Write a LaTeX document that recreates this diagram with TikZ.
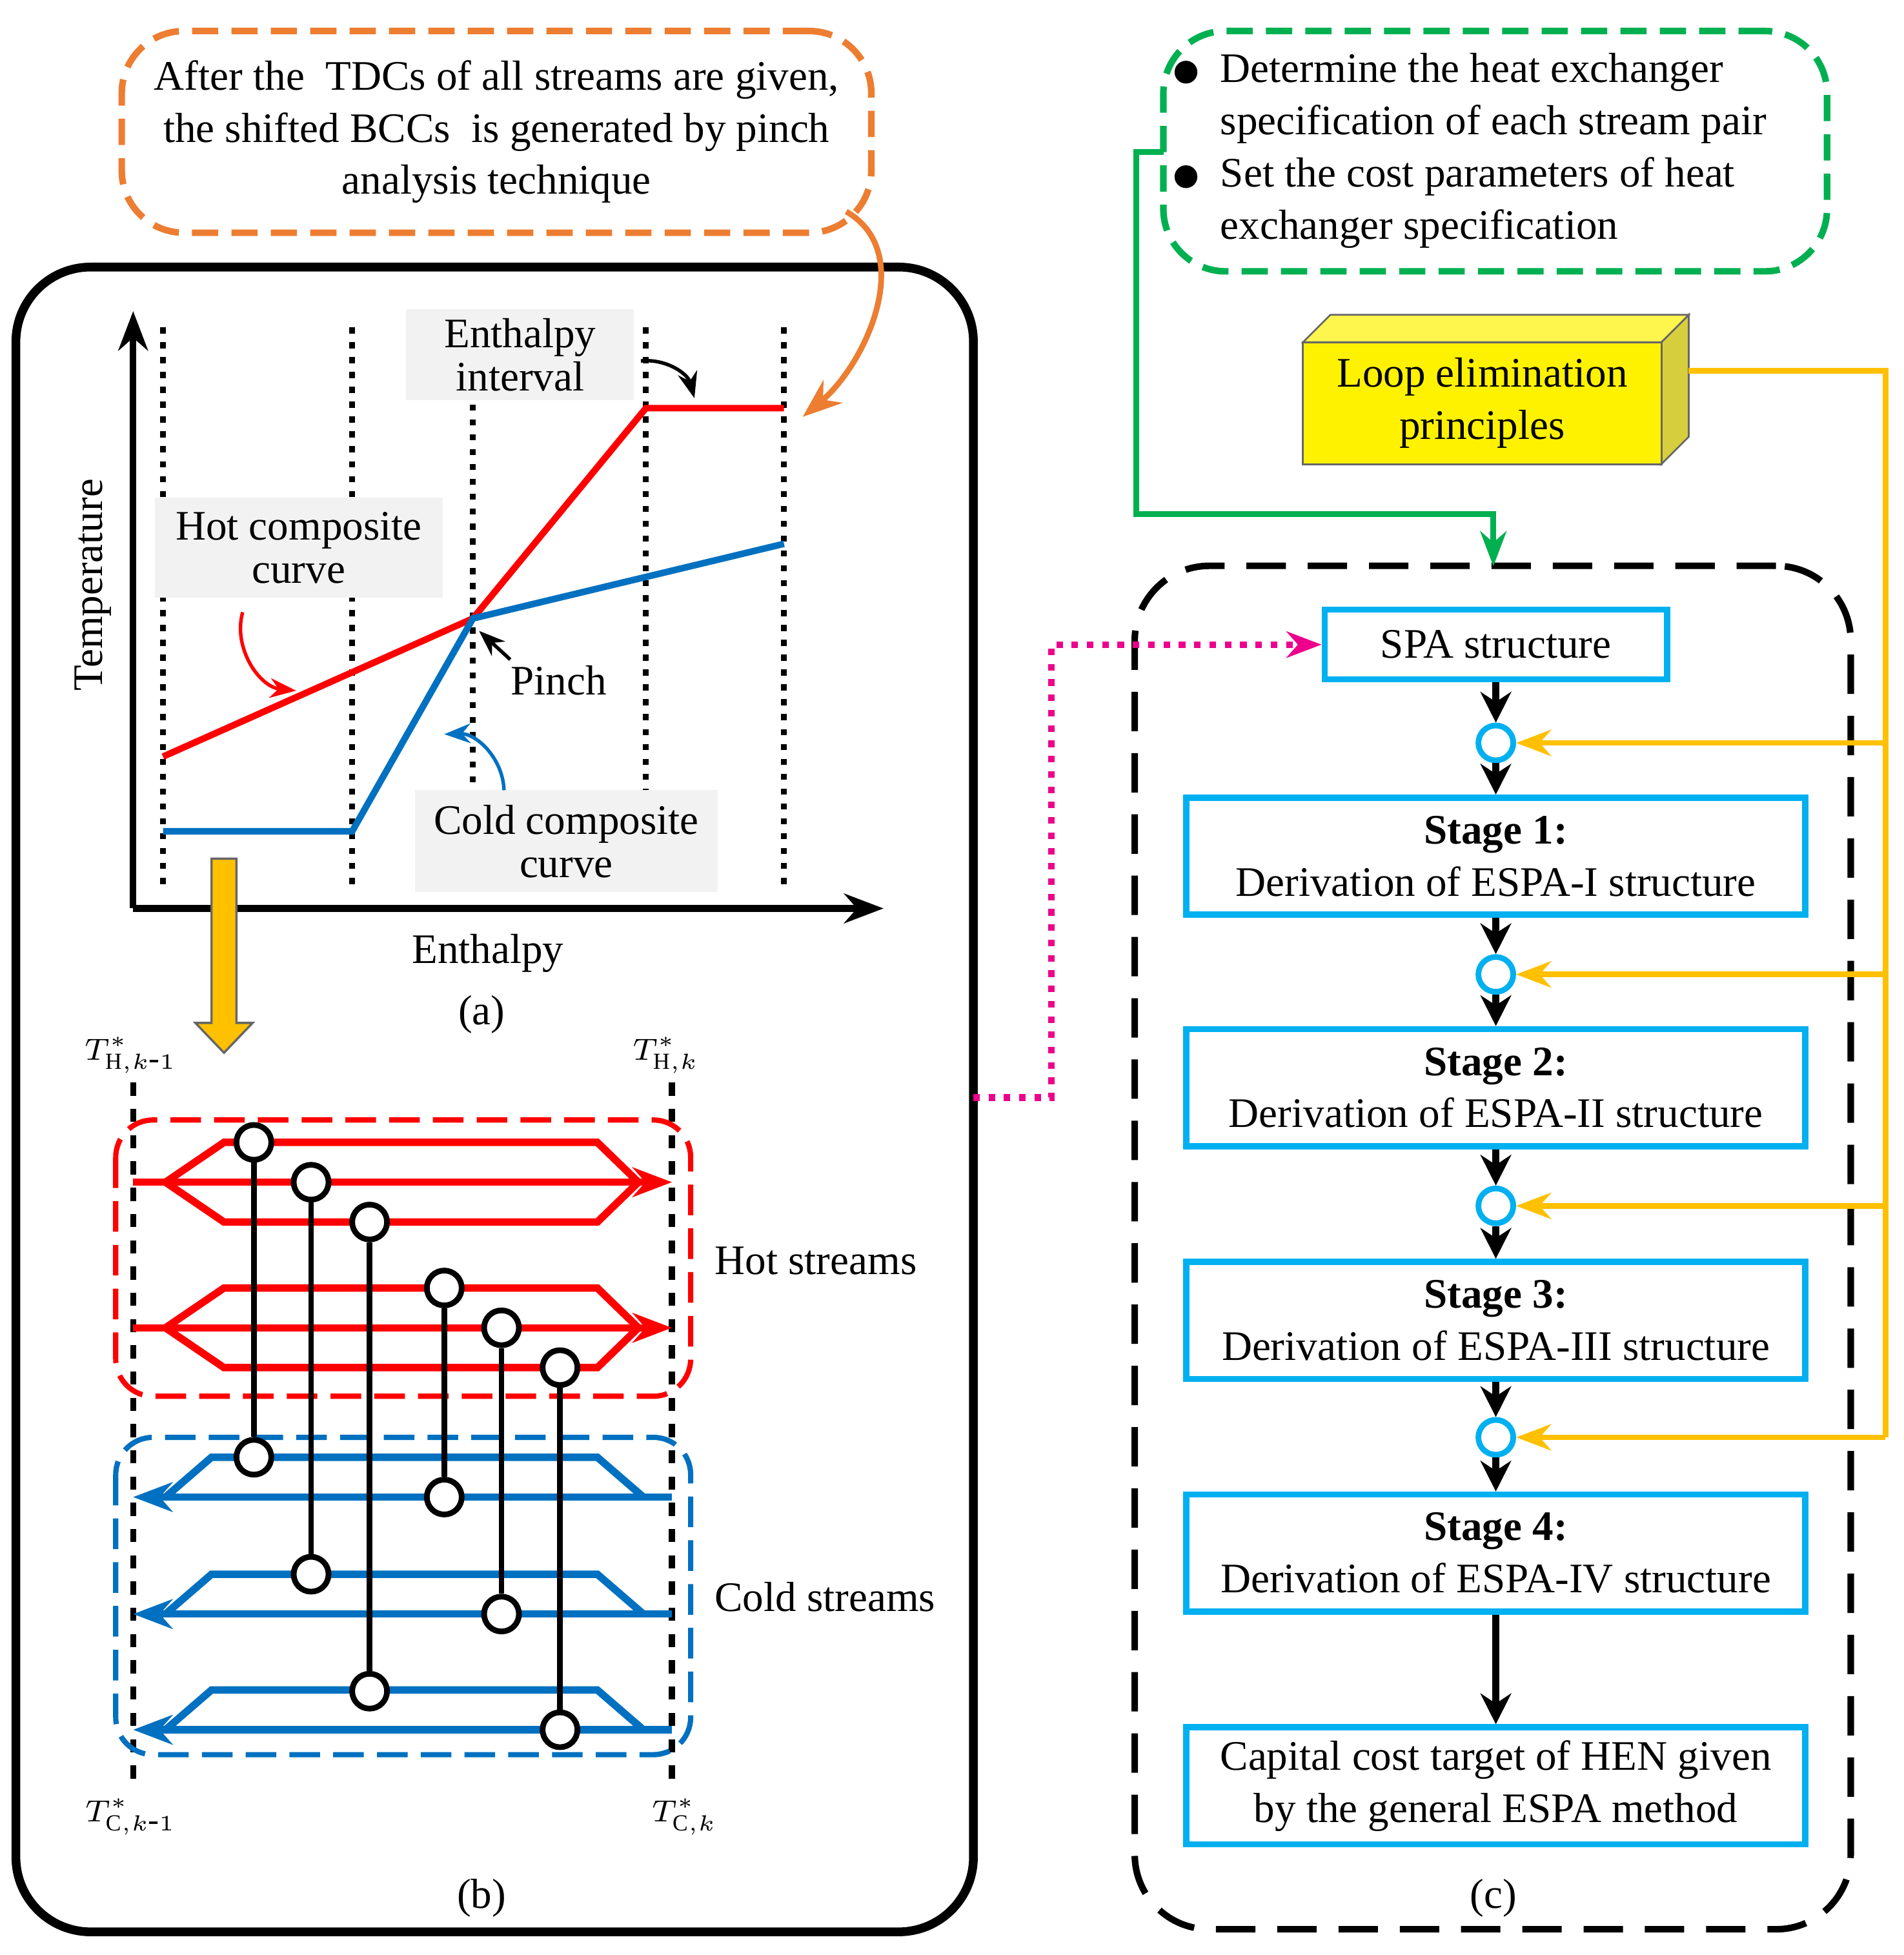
\documentclass[tikz,border=0pt]{standalone}
\usepackage{fontspec}
\setmainfont{Liberation Serif}
\usetikzlibrary{arrows.meta,shapes.geometric}
\definecolor{myorange}{RGB}{237,125,49}
\definecolor{mygreen}{RGB}{0,176,80}
\definecolor{mycyan}{RGB}{0,176,240}
\definecolor{myblue}{RGB}{0,112,192}
\definecolor{mygold}{RGB}{255,192,0}
\definecolor{mygray}{RGB}{242,242,242}
\begin{document}
\begin{tikzpicture}[x=0.01cm,y=-0.01cm,
  every node/.style={font=\fontsize{9.6}{11.9}\selectfont},
  lbl/.style={fill=mygray,align=center,inner sep=2pt},
  tl/.style={font=\fontsize{7.5}{9}\selectfont},
  stage/.style={draw=mycyan,line width=1.4pt,align=center,minimum width=4.97cm,minimum height=0.94cm,inner sep=1pt},
  jn/.style={circle,draw=mycyan,line width=1.3pt,fill=white,minimum size=0.28cm,inner sep=0pt},
  hx/.style={circle,draw=black,line width=1.3pt,fill=white,minimum size=0.28cm,inner sep=0pt},
  vdot/.style={line width=1.4pt,dotted},
  flow/.style={line width=1.6pt,-{Stealth[length=7pt,width=7pt]}},
  gold/.style={mygold,line width=1.3pt}]
\useasboundingbox (0,0) rectangle (1530,1571);
% orange note
\node[draw=myorange,dash pattern=on 6pt off 3pt,line width=1.5pt,rounded corners=0.5cm,minimum width=6.02cm,minimum height=1.62cm,align=center] (note) at (399,106) {After the\ \ TDCs of all streams are given,\\the shifted BCCs\ \ is generated by pinch\\analysis technique};
% big box
\node[draw,line width=2pt,rounded corners=0.6cm,minimum width=7.69cm,minimum height=13.37cm] (ab) at (397.5,883.5) {};
% axes
\coordinate (O) at (107,730);
\coordinate (Y) at (107,250);
\coordinate (X) at (710,730);
\draw[line width=1.5pt,-{Stealth[length=9pt]}] (O) -- (Y);
\draw[line width=1.5pt,-{Stealth[length=9pt]}] (O) -- (X);
\foreach \x/\t in {131/263,283/263,380/325,519/263,630/263}
  \draw[vdot] (\x,\t) -- (\x,715);
\draw[red,line width=1.5pt] (131,608) -- (380,497) -- (519,328) -- (630,328);
\draw[myblue,line width=1.5pt] (131,668) -- (283,668) -- (380,497) -- (630,437);
\node[rotate=90] (temp) at (75,470) {Temperature};
\node (enth) at (392,766) {Enthalpy};
\node (a) at (387,815) {(a)};
\node[lbl,minimum width=1.83cm,minimum height=0.7cm] (ei) at (418,285) {Enthalpy\\[-2pt]interval};
\node[lbl,minimum width=2.31cm,minimum height=0.8cm] (hc) at (240,440) {Hot composite\\[-2pt]curve};
\node[lbl,minimum width=2.43cm,minimum height=0.82cm] (cc) at (455,676) {Cold composite\\[-2pt]curve};
\node (pinch) at (449,547) {Pinch};
\coordinate (eiA) at (515,290); \coordinate (eiB) at (558,320);
\draw[-{Stealth[length=6pt]},line width=0.8pt] (eiA) to[bend left=40] (eiB);
\coordinate (hcA) at (195,492); \coordinate (hcB) at (238,555);
\draw[red,-{Stealth[length=6pt]},line width=0.8pt] (hcA) to[bend right=50] (hcB);
\coordinate (pA) at (410,530); \coordinate (pB) at (385,507);
\draw[-{Stealth[length=6pt]},line width=0.8pt] (pA) -- (pB);
\coordinate (cA) at (405,635); \coordinate (cB) at (357,590);
\draw[myblue,-{Stealth[length=6pt]},line width=0.8pt] (cA) to[bend right=45] (cB);
\coordinate (oA) at (680,170); \coordinate (oB) at (645,335);
\draw[myorange,line width=1.3pt,-{Stealth[length=9pt]}] (oA) to[out=-30,in=40] (oB);
% down gold arrow
\draw[draw=black!60,fill=mygold,line width=0.5pt] (170,690)--(190,690)--(190,822)--(203,822)--(180,846)--(157,822)--(170,822)--cycle;
% part b
\draw[line width=1.4pt,dashed] (107,870) -- (107,1432);
\draw[line width=1.4pt,dashed] (540,870) -- (540,1432);
\node[tl] (th1) at (105,848) {$T^*_{\mathrm{H},k\mbox{-}1}$};
\node[tl] (th2) at (535,848) {$T^*_{\mathrm{H},k}$};
\node[tl] (tc1) at (105,1460) {$T^*_{\mathrm{C},k\mbox{-}1}$};
\node[tl] (tc2) at (550,1460) {$T^*_{\mathrm{C},k}$};
\draw[red,dash pattern=on 7pt off 3pt,line width=1.2pt,rounded corners=0.3cm] (93,900) rectangle (555,1122);
\draw[myblue,dash pattern=on 7pt off 3pt,line width=1.2pt,rounded corners=0.3cm] (93,1155) rectangle (555,1410);
\foreach \y in {950,1067}{
  \draw[red,line width=1.7pt,-{Stealth[length=9pt]}] (107,\y) -- (540,\y);
  \draw[red,line width=1.7pt] (133,\y)--(180,\y-32)--(480,\y-32)--(513,\y)--(480,\y+32)--(180,\y+32)--cycle;}
\foreach \y in {1203,1297,1390}{
  \draw[myblue,line width=1.7pt,-{Stealth[length=9pt]}] (540,\y) -- (107,\y);
  \draw[myblue,line width=1.7pt] (133,\y)--(170,\y-32)--(480,\y-32)--(517,\y);}
\foreach \x/\a/\b [count=\i] in {204/918/1171,250/950/1265,297/982/1359,357/1035/1203,403/1067/1297,450/1099/1390}{
  \node[hx] (h\i) at (\x,\a) {};
  \node[hx] (c\i) at (\x,\b) {};
  \draw[line width=1.3pt] (h\i) -- (c\i);}
\node[anchor=west] (hs) at (562,1013) {Hot streams};
\node[anchor=west] (cs) at (562,1283) {Cold streams};
\node (b) at (387,1525) {(b)};
% part c
\node[draw=mygreen,dash pattern=on 6pt off 3pt,line width=1.5pt,rounded corners=0.5cm,minimum width=5.33cm,minimum height=1.93cm] (gn) at (1201.5,121.5) {};
\foreach \y/\t in {58/Determine the heat exchanger,100/specification of each stream pair,142/Set the cost parameters of heat,184/exchanger specification}
  \node[anchor=west,inner sep=0pt] at (980,\y) {\t};
\fill (953,58) circle (2.6pt);
\fill (953,142) circle (2.6pt);
% yellow box
\fill[yellow!80!black!90,draw=black!60] (1335,275)--(1357,253)--(1357,351)--(1335,373)--cycle;
\fill[yellow!70!white,draw=black!60] (1047,275)--(1069,253)--(1357,253)--(1335,275)--cycle;
\node[draw=black!60,fill=yellow,minimum width=2.88cm,minimum height=0.98cm,align=center,inner sep=0pt] (loop) at (1191,324) {Loop elimination\\principles};
% dashed c box
\node[draw,line width=1.5pt,dash pattern=on 9pt off 5pt,rounded corners=0.6cm,minimum width=5.75cm,minimum height=10.95cm] (cbox) at (1199.5,1002.5) {};
\node[stage,minimum width=2.75cm,minimum height=0.56cm] (spa) at (1202,518) {SPA structure};
\node[stage] (s1) at (1202,688) {\textbf{Stage 1:}\\Derivation of ESPA-I structure};
\node[stage] (s2) at (1202,874) {\textbf{Stage 2:}\\Derivation of ESPA-II structure};
\node[stage] (s3) at (1202,1061) {\textbf{Stage 3:}\\Derivation of ESPA-III structure};
\node[stage] (s4) at (1202,1248) {\textbf{Stage 4:}\\Derivation of ESPA-IV structure};
\node[stage] (s5) at (1202,1435) {Capital cost target of HEN given\\by the general ESPA method};
\node[jn] (j1) at (1202,597) {};
\node[jn] (j2) at (1202,783) {};
\node[jn] (j3) at (1202,969) {};
\node[jn] (j4) at (1202,1155) {};
\draw[flow] (spa) -- (j1); \draw[flow] (j1) -- (s1);
\draw[flow] (s1) -- (j2); \draw[flow] (j2) -- (s2);
\draw[flow] (s2) -- (j3); \draw[flow] (j3) -- (s3);
\draw[flow] (s3) -- (j4); \draw[flow] (j4) -- (s4);
\draw[flow] (s4) -- (s5);
\node (c) at (1200,1525) {(c)};
% gold lines
\draw[gold] (1357,298) -- (1515,298) -- (1515,1155);
\foreach \i/\y in {1/597,2/783,3/969,4/1155}
  \draw[gold,-{Stealth[length=8pt]}] (1515,\y) -- (j\i);
% green arrow
\coordinate (gS) at (935,122);
\coordinate (gE) at (1200,455);
\draw[mygreen,line width=1.3pt,-{Stealth[length=8pt]}] (gS) -- (913,122) -- (913,413) -- (1200,413) -- (gE);
% magenta
\coordinate (mS) at (782,882);
\draw[magenta,line width=1.5pt,dotted,-{Stealth[length=8pt]}] (mS) -- (845,882) -- (845,518) -- (spa.west);
\end{tikzpicture}
\end{document}
